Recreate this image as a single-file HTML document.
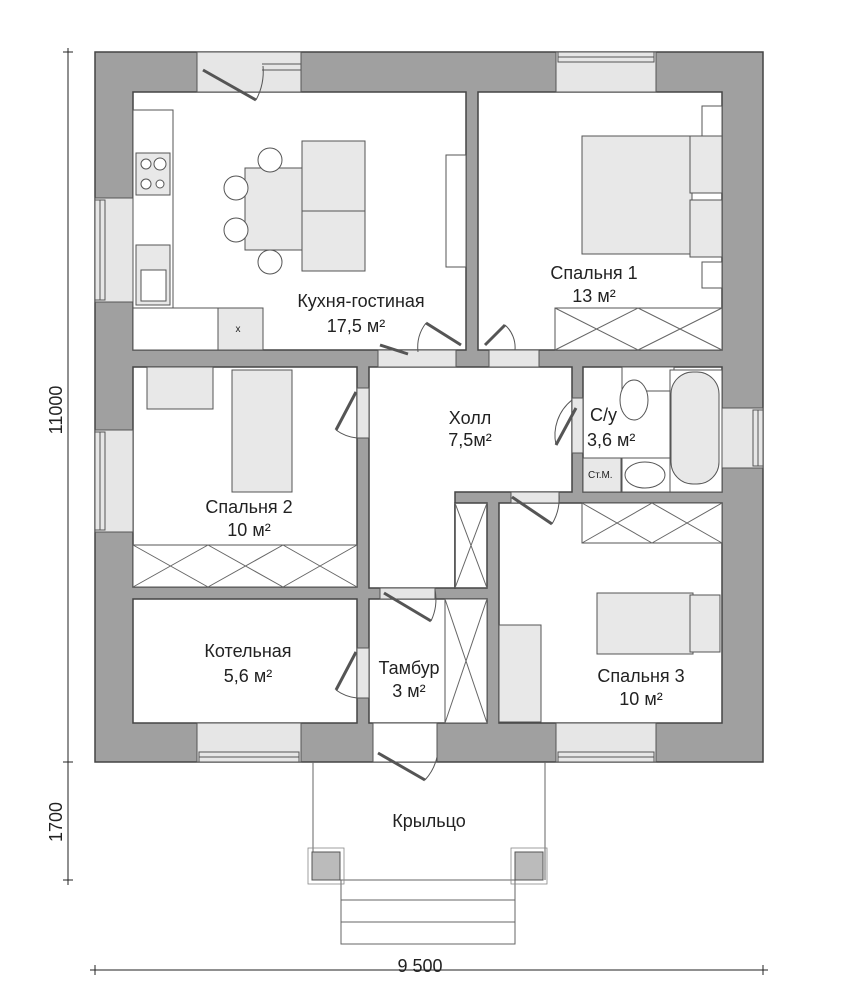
<!DOCTYPE html>
<html><head><meta charset="utf-8"><style>
html,body{margin:0;padding:0;background:#fff}
svg{display:block}
text{font-family:"Liberation Sans",sans-serif;fill:#222}
</style></head><body>
<svg width="853" height="997" viewBox="0 0 853 997" xmlns="http://www.w3.org/2000/svg">
<rect x="95" y="52" width="668" height="710" fill="#a0a0a0" stroke="#444" stroke-width="1.5"/>
<g fill="#fff" stroke="#444" stroke-width="1.5">
<rect x="133" y="92" width="333" height="258"/>
<rect x="478" y="92" width="244" height="258"/>
<rect x="133" y="367" width="224" height="220"/>
<path d="M369 367 H572 V492 H455 V588 H369 Z"/>
<rect x="583" y="367" width="139" height="125"/>
<rect x="499" y="503" width="223" height="220"/>
<rect x="133" y="599" width="224" height="124"/>
<rect x="369" y="599" width="118" height="124"/>
<rect x="455" y="503" width="32" height="85"/>
</g>
<g fill="#e6e6e6" stroke="#555" stroke-width="1">
<rect x="197" y="52" width="104" height="40"/>
<rect x="556" y="52" width="100" height="40"/>
<rect x="95" y="198" width="38" height="104"/>
<rect x="95" y="430" width="38" height="102"/>
<rect x="722" y="408" width="41" height="60"/>
<rect x="197" y="723" width="104" height="39"/>
<rect x="556" y="723" width="100" height="39"/>
<rect x="373" y="723" width="64" height="39" fill="#fff"/>
<rect x="378" y="350" width="78" height="17"/>
<rect x="489" y="350" width="50" height="17"/>
<rect x="357" y="388" width="12" height="50"/>
<rect x="572" y="398" width="11" height="55"/>
<rect x="511" y="492" width="48" height="11"/>
<rect x="380" y="588" width="55" height="11"/>
<rect x="357" y="648" width="12" height="50"/>
</g>
<!-- window frames -->
<g stroke="#555" stroke-width="1" fill="none">
<path d="M558 52 V62 H654 V52 M558 57 H654"/>
<path d="M95 200 H105 V300 H95 M100 200 V300"/>
<path d="M95 432 H105 V530 H95 M100 432 V530"/>
<path d="M763 410 H753 V466 H763 M758 410 V466"/>
<path d="M199 762 V752 H299 V762 M199 757 H299"/>
<path d="M558 762 V752 H654 V762 M558 757 H654"/>
<path d="M262 70 H301 M262 64 H301"/>
</g>
<g stroke="#555" stroke-width="3" fill="none">
<line x1="203" y1="70" x2="256" y2="100"/>
<line x1="408" y1="354" x2="380" y2="345"/>
<line x1="461" y1="345" x2="426" y2="323"/>
<line x1="485" y1="345" x2="505" y2="325"/>
<line x1="356" y1="392" x2="336" y2="430"/>
<line x1="576" y1="408" x2="556" y2="445"/>
<line x1="512" y1="497" x2="552" y2="524"/>
<line x1="384" y1="593" x2="431" y2="621"/>
<line x1="356" y1="652" x2="336" y2="690"/>
<line x1="378" y1="753" x2="425" y2="780"/>
</g>
<!-- door arcs -->
<g stroke="#555" stroke-width="1" fill="none">
<path d="M256 100 A60 60 0 0 0 263 66"/>
<path d="M426 323 A40 40 0 0 0 418 352"/>
<path d="M505 325 A30 30 0 0 1 515 350"/>
<path d="M336 430 A42 42 0 0 0 357 438"/>
<path d="M556 445 A45 45 0 0 1 572 400"/>
<path d="M552 524 A50 50 0 0 0 559 494"/>
<path d="M431 621 A50 50 0 0 0 435 590"/>
<path d="M336 690 A42 42 0 0 0 357 698"/>
<path d="M425 780 A50 50 0 0 0 437 757"/>
</g>
<g stroke="#666" stroke-width="1" fill="none">
<line x1="313" y1="762" x2="313" y2="880"/>
<line x1="545" y1="762" x2="545" y2="880"/>
<rect x="341" y="880" width="174" height="20"/>
<rect x="341" y="900" width="174" height="22"/>
<rect x="341" y="922" width="174" height="22"/>
</g>
<rect x="312" y="852" width="28" height="28" fill="#bbb" stroke="#555"/>
<rect x="515" y="852" width="28" height="28" fill="#bbb" stroke="#555"/>
<rect x="308" y="848" width="36" height="36" fill="none" stroke="#888" stroke-width="0.8"/>
<rect x="511" y="848" width="36" height="36" fill="none" stroke="#888" stroke-width="0.8"/>
<g stroke="#555" stroke-width="1" fill="#e8e8e8">
<rect x="133" y="110" width="40" height="198" fill="#fff"/>
<rect x="136" y="153" width="34" height="42"/>
<rect x="136" y="245" width="34" height="60"/>
<rect x="133" y="308" width="130" height="42" fill="#fff"/>
<rect x="218" y="308" width="45" height="42"/>
<rect x="245" y="168" width="57" height="82"/>
<rect x="302" y="141" width="63" height="130"/>
<line x1="302" y1="211" x2="365" y2="211"/>
<rect x="446" y="155" width="20" height="112" fill="#fff"/>
<circle cx="270" cy="160" r="12" fill="#fff"/>
<circle cx="270" cy="262" r="12" fill="#fff"/>
<circle cx="236" cy="188" r="12" fill="#fff"/>
<circle cx="236" cy="230" r="12" fill="#fff"/>
<circle cx="146" cy="164" r="5" fill="#fff"/><circle cx="160" cy="164" r="6" fill="#fff"/>
<circle cx="146" cy="184" r="5" fill="#fff"/><circle cx="160" cy="184" r="4" fill="#fff"/>
<rect x="141" y="270" width="25" height="31" fill="#fff"/>
<rect x="582" y="136" width="110" height="118"/>
<rect x="690" y="136" width="32" height="57"/>
<rect x="690" y="200" width="32" height="57"/>
<rect x="702" y="106" width="20" height="30" fill="#fff"/>
<rect x="702" y="262" width="20" height="26" fill="#fff"/>
<rect x="555" y="308" width="167" height="42" fill="#fff"/>
<rect x="147" y="367" width="66" height="42"/>
<rect x="232" y="370" width="60" height="122"/>
<rect x="133" y="545" width="224" height="42" fill="#fff"/>
<rect x="622" y="367" width="52" height="24" fill="#fff"/>
<ellipse cx="634" cy="400" rx="14" ry="20" fill="#fff"/>
<rect x="670" y="370" width="52" height="122" fill="#fff"/>
<rect x="671" y="372" width="48" height="112" rx="22"/>
<rect x="583" y="458" width="38" height="34"/>
<rect x="622" y="458" width="48" height="34" fill="#fff"/>
<ellipse cx="645" cy="475" rx="20" ry="13" fill="#fff"/>
<rect x="582" y="503" width="140" height="40" fill="#fff"/>
<rect x="597" y="593" width="96" height="61"/>
<rect x="690" y="595" width="30" height="57"/>
<rect x="499" y="625" width="42" height="97"/>
<rect x="445" y="599" width="42" height="124" fill="#fff"/>
</g>
<g stroke="#666" stroke-width="1">
<path d="M555 308 L638 350 M638 308 L555 350 M638 308 L722 350 M722 308 L638 350"/>
<path d="M133 545 L208 587 M208 545 L133 587 M208 545 L283 587 M283 545 L208 587 M283 545 L357 587 M357 545 L283 587"/>
<path d="M582 503 L652 543 M652 503 L582 543 M652 503 L722 543 M722 503 L652 543"/>
<path d="M455 503 L487 588 M487 503 L455 588"/>
<path d="M445 599 L487 723 M487 599 L445 723"/>
</g>
<g font-size="18" text-anchor="middle">
<text x="361" y="307">Кухня-гостиная</text>
<text x="356" y="332">17,5 м²</text>
<text x="594" y="279">Спальня 1</text>
<text x="594" y="302">13 м²</text>
<text x="249" y="513">Спальня 2</text>
<text x="249" y="536">10 м²</text>
<text x="470" y="424">Холл</text>
<text x="470" y="446">7,5м²</text>
<text x="590" y="421" text-anchor="start">С/у</text>
<text x="587" y="446" text-anchor="start">3,6 м²</text>
<text x="248" y="657">Котельная</text>
<text x="248" y="682">5,6 м²</text>
<text x="409" y="674">Тамбур</text>
<text x="409" y="697">3 м²</text>
<text x="641" y="682">Спальня 3</text>
<text x="641" y="705">10 м²</text>
<text x="429" y="827">Крыльцо</text>
<text x="420" y="972">9 500</text>
</g>
<text x="588" y="478" font-size="10" fill="#777">Ст.М.</text>
<text x="238" y="332" font-size="10" text-anchor="middle">x</text>
<g stroke="#222" stroke-width="1">
<line x1="68" y1="48" x2="68" y2="885"/>
<line x1="63" y1="52" x2="73" y2="52"/>
<line x1="63" y1="762" x2="73" y2="762"/>
<line x1="63" y1="880" x2="73" y2="880"/>
<line x1="90" y1="970" x2="768" y2="970"/>
<line x1="95" y1="965" x2="95" y2="975"/>
<line x1="763" y1="965" x2="763" y2="975"/>
</g>
<text transform="translate(62,410) rotate(-90)" font-size="18" text-anchor="middle">11000</text>
<text transform="translate(62,822) rotate(-90)" font-size="18" text-anchor="middle">1700</text>
</svg>
</body></html>
